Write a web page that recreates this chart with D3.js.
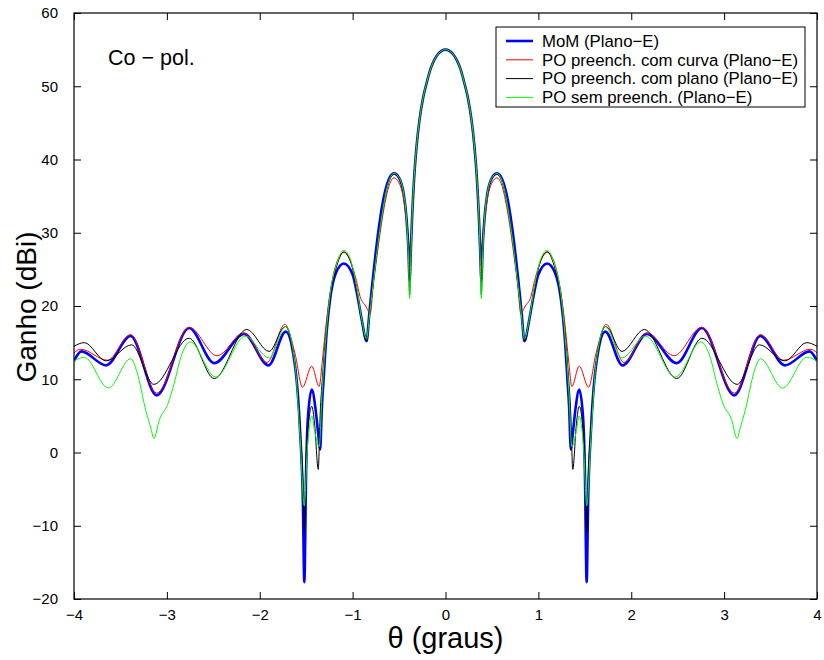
<!DOCTYPE html>
<html><head><meta charset="utf-8">
<script src="https://cdn.jsdelivr.net/npm/d3@7"></script>
<style>
body{margin:0;background:#fff;}
text{font-family:"Liberation Sans",Arial,Helvetica,sans-serif;fill:#000;}
</style></head>
<body>
<svg id="chart" width="824" height="660"></svg>
<script>
// ---- Data ----
const xTicks = [-4,-3,-2,-1,0,1,2,3,4];
const yTicks = [-20,-10,0,10,20,30,40,50,60];
const seriesNames = ["MoM (Plano\u2212E)","PO preench. com curva (Plano\u2212E)","PO preench. com plano (Plano\u2212E)","PO sem preench. (Plano\u2212E)"];
const seriesColors = ["#0000ff","#ff0000","#000000","#00ff00"];

const momTheta = [-4.00,-3.92,-3.655,-3.39,-3.11,-2.76,-2.49,-2.17,-1.905,-1.72,-1.62,-1.565,-1.536,-1.52,-1.50,-1.48,-1.44,-1.40,-1.37,-1.35,-1.33,-1.315,-1.28,-1.243,-1.18,-1.095,-1.00,-0.95,-0.90,-0.85,-0.82,-0.78,-0.73,-0.67,-0.61,-0.555,-0.50,-0.45,-0.42,-0.40,-0.386,-0.375,-0.36,-0.34,-0.31,-0.28,-0.24,-0.20,-0.16,-0.12,-0.08,0,
0.08,0.12,0.16,0.20,0.24,0.28,0.31,0.34,0.36,0.375,0.386,0.40,0.42,0.45,0.50,0.555,0.61,0.67,0.73,0.78,0.82,0.85,0.90,0.95,1.00,1.095,1.18,1.243,1.28,1.315,1.33,1.35,1.37,1.40,1.44,1.48,1.50,1.52,1.536,1.565,1.62,1.72,1.905,2.17,2.49,2.76,3.11,3.39,3.655,3.92,4.00];
const momGain = [12.5,13.8,11.9,15.9,7.8,17.0,12.2,16.2,11.9,16.5,11.8,2.7,-6.4,-17.7,-2,5,8.6,6,2.5,0.4,6.5,9.5,16.4,20.9,24.5,25.8,24.3,21.5,18,15.2,19,24,29.5,34.5,37.3,38.1,37.5,35.3,32,28,23.5,27,32,37,42,45.4,48.5,50.6,52.4,53.6,54.4,55,
54.4,53.6,52.4,50.6,48.5,45.4,42,37,32,27,23.5,28,32,35.3,37.5,38.1,37.3,34.5,29.5,24,19,15.2,18,21.5,24.3,25.8,24.5,20.9,16.4,9.5,6.5,0.4,2.5,6,8.6,5,-2,-17.7,-6.4,2.7,11.8,16.5,11.9,16.2,12.2,17.0,7.8,15.9,11.9,13.8,12.5];

const curvaTheta = [-4.00,-3.93,-3.64,-3.39,-3.11,-2.76,-2.46,-2.17,-1.92,-1.73,-1.62,-1.54,-1.44,-1.36,-1.33,-1.29,-1.24,-1.17,-1.095,-1.02,-0.96,-0.92,-0.86,-0.81,-0.78,-0.72,-0.66,-0.60,-0.555,-0.50,-0.45,-0.42,-0.40,-0.386,-0.375,-0.36,-0.34,-0.31,-0.28,-0.24,-0.20,-0.16,-0.12,-0.08,0,
0.08,0.12,0.16,0.20,0.24,0.28,0.31,0.34,0.36,0.375,0.386,0.40,0.42,0.45,0.50,0.555,0.60,0.66,0.72,0.78,0.81,0.86,0.92,0.96,1.02,1.095,1.17,1.24,1.29,1.33,1.36,1.44,1.54,1.62,1.73,1.92,2.17,2.46,2.76,3.11,3.39,3.64,3.93,4.00];
const curvaGain = [13.6,14.1,12.6,16.1,8.1,17.1,13.2,16.3,12.3,17.5,13.5,8.9,11.8,9.0,12,17,22,26,27.3,26,23.5,21.3,20,19.0,22.5,28.5,33.5,36.7,37.5,36.8,34.5,31.5,28,24.5,27.5,32,37,42,45.4,48.5,50.6,52.4,53.6,54.4,55,
54.4,53.6,52.4,50.6,48.5,45.4,42,37,32,27.5,24.5,28,31.5,34.5,36.8,37.5,36.7,33.5,28.5,22.5,19.0,20,21.3,23.5,26,27.3,26,22,17,12,9.0,11.8,8.9,13.5,17.5,12.3,16.3,13.2,17.1,8.1,16.1,12.6,14.1,13.6];

const planoTheta = [-4.00,-3.89,-3.655,-3.38,-3.14,-2.76,-2.49,-2.14,-1.90,-1.725,-1.62,-1.565,-1.535,-1.52,-1.50,-1.47,-1.44,-1.41,-1.37,-1.35,-1.32,-1.28,-1.24,-1.17,-1.095,-1.02,-0.96,-0.90,-0.855,-0.82,-0.77,-0.70,-0.62,-0.555,-0.50,-0.45,-0.42,-0.40,-0.386,-0.375,-0.36,-0.34,-0.31,-0.28,-0.24,-0.20,-0.16,-0.12,-0.08,0,
0.08,0.12,0.16,0.20,0.24,0.28,0.31,0.34,0.36,0.375,0.386,0.40,0.42,0.45,0.50,0.555,0.62,0.70,0.77,0.82,0.855,0.90,0.96,1.02,1.095,1.17,1.24,1.28,1.32,1.35,1.37,1.41,1.44,1.47,1.50,1.52,1.535,1.565,1.62,1.725,1.90,2.14,2.49,2.76,3.14,3.38,3.655,3.89,4.00];
const planoGain = [14.5,15.0,12.5,14.7,9.3,15.6,10.1,16.8,13.8,17.2,12,3,-4,-10.9,-1,4.5,6.3,4,-2.3,5,11,17,21.5,25.5,27.4,26,22.5,17.8,15.2,18.5,24,31,36.5,38.0,37.4,35.2,32,27.5,21.5,26.5,32,37,42,45.4,48.5,50.6,52.4,53.6,54.4,55,
54.4,53.6,52.4,50.6,48.5,45.4,42,37,32,26.5,21.5,27.5,32,35.2,37.4,38.0,36.5,31,24,18.5,15.2,17.8,22.5,26,27.4,25.5,21.5,17,11,5,-2.3,4,6.3,4.5,-1,-10.9,-4,3,12,17.2,13.8,16.8,10.1,15.6,9.3,14.7,12.5,15.0,14.5];

const semTheta = [-4.00,-3.89,-3.63,-3.39,-3.32,-3.23,-3.17,-3.14,-3.08,-2.99,-2.92,-2.85,-2.75,-2.475,-2.155,-1.90,-1.72,-1.62,-1.565,-1.52,-1.49,-1.46,-1.44,-1.41,-1.36,-1.33,-1.28,-1.24,-1.17,-1.095,-1.02,-0.96,-0.90,-0.85,-0.82,-0.77,-0.70,-0.62,-0.555,-0.50,-0.45,-0.42,-0.40,-0.386,-0.375,-0.36,-0.34,-0.31,-0.28,-0.24,-0.20,-0.16,-0.12,-0.08,0,
0.08,0.12,0.16,0.20,0.24,0.28,0.31,0.34,0.36,0.375,0.386,0.40,0.42,0.45,0.50,0.555,0.62,0.70,0.77,0.82,0.85,0.90,0.96,1.02,1.095,1.17,1.24,1.28,1.33,1.36,1.41,1.44,1.46,1.49,1.52,1.565,1.62,1.72,1.90,2.155,2.475,2.75,2.85,2.92,2.99,3.08,3.14,3.17,3.23,3.32,3.39,3.63,3.89,4.00];
const semGain = [12.5,13.0,8.8,12.8,10.9,5.9,3.2,1.9,4.5,6.6,9.5,13,15.1,10.3,15.9,12.9,17.2,12,2,-7.3,0,4,5.0,3,0.8,8,17,21.8,25.8,27.6,26.2,22.8,18,15.5,18.5,24,31,36.6,38.1,37.5,35.3,32,27,21,26,32,37,42,45.4,48.5,50.6,52.4,53.6,54.4,55,
54.4,53.6,52.4,50.6,48.5,45.4,42,37,32,26,21,27,32,35.3,37.5,38.1,36.6,31,24,18.5,15.5,18,22.8,26.2,27.6,25.8,21.8,17,8,0.8,3,5.0,4,0,-7.3,2,12,17.2,12.9,15.9,10.3,15.1,13,9.5,6.6,4.5,1.9,3.2,5.9,10.9,12.8,8.8,13.0,12.5];

// ---- Layout ----
const svg = d3.select("#chart");
const L = 74, R = 817, T = 13, B = 599;
const x = d3.scaleLinear().domain([-4,4]).range([L,R]);
const y = d3.scaleLinear().domain([-20,60]).range([B,T]);

const allSeries = [
  {theta: momTheta, gain: momGain, w: 2.6},
  {theta: curvaTheta, gain: curvaGain, w: 1},
  {theta: planoTheta, gain: planoGain, w: 1},
  {theta: semTheta, gain: semGain, w: 1}
];

svg.append("clipPath").attr("id","clip").append("rect")
  .attr("x",L).attr("y",T).attr("width",R-L).attr("height",B-T);

const line = d3.line().x(d=>x(d[0])).y(d=>y(d[1])).curve(d3.curveMonotoneX);
const g = svg.append("g").attr("clip-path","url(#clip)");
allSeries.forEach((s,i)=>{
  const pts = s.theta.map((t,k)=>[t, s.gain[k]]);
  g.append("path").attr("d", line(pts)).attr("fill","none")
    .attr("stroke", seriesColors[i]).attr("stroke-width", s.w)
    .attr("stroke-linejoin","round");
});

// Axes (ticks inward, box)
const tk = 7;
const fmt = d=>d3.format("")(d).replace("-","\u2212");
const axB = d3.axisBottom(x).tickValues(xTicks).tickSizeInner(-tk).tickSizeOuter(0).tickPadding(10).tickFormat(fmt);
const axT = d3.axisTop(x).tickValues(xTicks).tickSizeInner(-tk).tickSizeOuter(0).tickFormat("");
const axL = d3.axisLeft(y).tickValues(yTicks).tickSizeInner(-tk).tickSizeOuter(0).tickPadding(16).tickFormat(fmt);
const axRt = d3.axisRight(y).tickValues(yTicks).tickSizeInner(-tk).tickSizeOuter(0).tickFormat("");

function style(sel){
  sel.select(".domain").remove();
  sel.selectAll("line").attr("stroke","#000").attr("stroke-width",1);
  sel.selectAll("text").attr("font-size",15).attr("font-family","Liberation Sans, Arial, sans-serif").attr("fill","#000");
}
svg.append("g").attr("transform",`translate(0,${B})`).call(axB).call(style);
svg.append("g").attr("transform",`translate(0,${T})`).call(axT).call(style);
svg.append("g").attr("transform",`translate(${L},0)`).call(axL).call(style);
svg.append("g").attr("transform",`translate(${R},0)`).call(axRt).call(style);

svg.append("rect").attr("x",L).attr("y",T).attr("width",R-L).attr("height",B-T)
  .attr("fill","none").attr("stroke","#000").attr("stroke-width",1.2);

// Axis titles
svg.append("text").attr("x",(L+R)/2).attr("y",648).attr("text-anchor","middle")
  .attr("font-size",29).text("\u03b8 (graus)");
svg.append("text").attr("transform","translate(36,307) rotate(-90)").attr("text-anchor","middle")
  .attr("font-size",28).text("Ganho (dBi)");

// annotation
svg.append("text").attr("x",108).attr("y",65).attr("font-size",21.5).text("Co \u2212 pol.");

// Legend
const lg = svg.append("g");
lg.append("rect").attr("x",496).attr("y",27).attr("width",309).attr("height",80)
  .attr("fill","#fff").attr("stroke","#000").attr("stroke-width",1);
seriesNames.forEach((n,i)=>{
  const yy = 41 + i*18.8;
  lg.append("line").attr("x1",506).attr("x2",533).attr("y1",yy).attr("y2",yy)
    .attr("stroke",seriesColors[i]).attr("stroke-width", allSeries[i].w);
  lg.append("text").attr("x",542).attr("y",yy).attr("dy","0.35em").attr("font-size",16.8).text(n);
});
</script>
</body></html>
